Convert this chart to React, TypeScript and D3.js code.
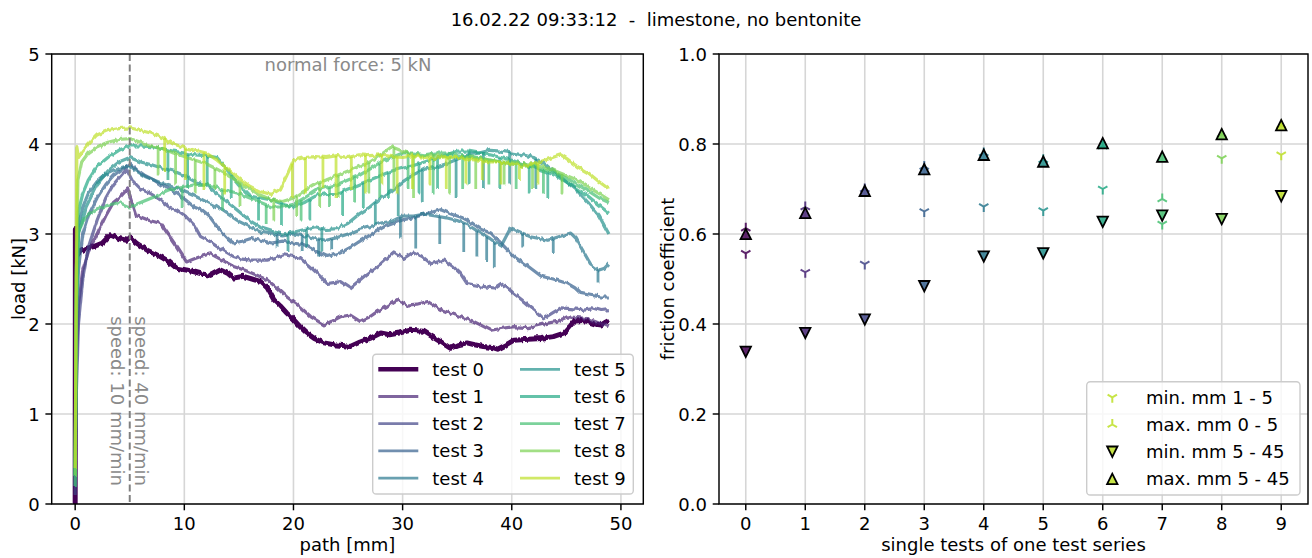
import React from "react";
import * as d3 from "d3";

type P = [number, number];

// ---------- left panel: load vs path, one series per test ----------
const test0: P[] = [[0,0],[0.02,3.05],[0.1,2.75],[0.4,2.8],[1,2.84],[1.7,2.86],[2.5,2.9],[3.2,2.99],[4,2.95],[4.7,2.93],[5,2.97],[5.6,2.9],[6.6,2.82],[7.8,2.75],[8.5,2.7],[9.3,2.62],[10.2,2.6],[10.9,2.58],[11.5,2.56],[12.4,2.54],[13.3,2.6],[14,2.56],[14.5,2.51],[15.4,2.53],[16.2,2.5],[17,2.47],[17.6,2.4],[18.2,2.27],[18.8,2.2],[19.4,2.12],[20,2.05],[20.6,1.97],[21.2,1.9],[21.9,1.84],[22.8,1.79],[23.7,1.77],[24.5,1.76],[25.2,1.75],[26.1,1.8],[27,1.84],[28,1.9],[28.8,1.88],[29.7,1.9],[30.7,1.93],[31.9,1.92],[32.7,1.86],[33.5,1.8],[34.4,1.73],[35.1,1.77],[35.9,1.79],[36.6,1.77],[37.4,1.75],[38.2,1.74],[38.7,1.72],[39.5,1.77],[40.2,1.82],[41.5,1.83],[42.7,1.84],[43.8,1.86],[44.8,1.9],[45.3,1.97],[45.7,2.03],[46.3,2.04],[46.9,2.03],[47.6,2.0],[48.2,1.99],[48.6,2.02],[48.9,2.04]];
const test1: P[] = [[0,0.2],[0.1,1.5],[0.3,2.2],[0.7,2.6],[1.2,2.8],[2,3.0],[2.8,3.2],[3.5,3.35],[4.2,3.42],[4.8,3.5],[5.2,3.35],[5.6,3.2],[6,3.19],[6.8,3.15],[7.8,3.12],[8.5,3.0],[9.3,2.86],[10.2,2.69],[10.8,2.72],[11.5,2.75],[12.4,2.78],[13.3,2.72],[14.5,2.64],[15.5,2.6],[16.5,2.55],[17.6,2.49],[18.5,2.4],[19.4,2.3],[20.5,2.2],[21.6,2.08],[22.8,1.99],[23.5,2.03],[24.3,2.08],[25.2,2.1],[26.1,2.03],[27,2.08],[27.7,2.14],[28.6,2.2],[29.5,2.27],[30.4,2.21],[31.3,2.22],[32.3,2.25],[33.5,2.16],[34.4,2.12],[35.3,2.08],[36.5,2.03],[37.3,1.98],[38.1,1.93],[39,1.95],[40.2,1.97],[41.5,1.96],[43.3,2.01],[44.2,2.03],[45.1,2.08],[46,2.07],[46.9,2.06],[47.8,2.02],[48.5,1.99],[48.9,1.97]];
const test2: P[] = [[0,0.1],[0.1,1.2],[0.3,2.0],[0.7,2.5],[1.2,2.85],[2,3.15],[2.8,3.4],[3.5,3.55],[4.2,3.65],[4.7,3.72],[5.2,3.6],[6,3.5],[6.9,3.45],[7.8,3.38],[8.6,3.3],[9.3,3.27],[10.1,3.2],[10.9,3.1],[11.5,2.97],[12.3,2.92],[13,2.86],[14.5,2.75],[15.3,2.72],[16.1,2.71],[17.6,2.71],[18.4,2.74],[19.1,2.77],[20,2.75],[20.6,2.73],[21.4,2.65],[22.2,2.56],[23.1,2.45],[24.3,2.47],[25.2,2.4],[26,2.48],[26.8,2.56],[28,2.67],[29.2,2.8],[30.1,2.73],[31,2.8],[31.8,2.75],[32.6,2.67],[33.8,2.71],[34.6,2.64],[35.3,2.56],[35.9,2.45],[36.8,2.43],[37.8,2.41],[38.4,2.4],[39,2.45],[39.6,2.4],[40.2,2.34],[41,2.26],[41.7,2.19],[42.4,2.12],[42.9,2.06],[43.7,2.12],[44.5,2.18],[45.4,2.17],[46.3,2.16],[47.3,2.18],[48.2,2.15],[48.9,2.16]];
const test3: P[] = [[0,0.2],[0.1,1.8],[0.3,2.6],[0.7,3.0],[1.2,3.2],[2,3.4],[2.8,3.55],[3.5,3.65],[4.3,3.72],[5,3.78],[5.6,3.72],[6.4,3.65],[7.2,3.6],[7.8,3.55],[8.6,3.5],[9.3,3.45],[10.1,3.38],[10.9,3.3],[11.5,3.27],[12.4,3.18],[13.2,3.05],[14,2.95],[14.5,2.9],[15.3,2.92],[16.1,2.95],[17,2.93],[18,2.9],[19,2.92],[20,2.9],[21,2.88],[22.2,2.8],[23.1,2.75],[24.3,2.79],[25.2,2.85],[26.2,2.93],[27.2,3.0],[28.3,3.08],[29.2,3.12],[30.1,3.16],[31,3.18],[32,3.22],[33.5,3.27],[34.5,3.22],[35.5,3.18],[36.4,3.12],[37.2,3.05],[38.1,3.01],[39,2.9],[40.2,2.75],[41.4,2.65],[42.7,2.53],[43.8,2.5],[45.1,2.45],[45.8,2.4],[46.3,2.34],[47.2,2.32],[48.2,2.3],[48.9,2.3]];
const test4: P[] = [[0,0.3],[0.1,2.3],[0.3,3.1],[0.7,3.3],[1.2,3.45],[2,3.58],[2.8,3.66],[3.5,3.7],[4.3,3.74],[5,3.76],[5.6,3.7],[6.4,3.64],[7.2,3.6],[8,3.56],[9,3.52],[10,3.47],[11,3.42],[12,3.36],[13,3.3],[14,3.22],[15,3.14],[16,3.08],[17,3.02],[18,3.0],[19,2.98],[20,3.0],[21,2.98],[22,2.95],[23,2.93],[24,2.96],[25,3.0],[26,3.05],[27,3.08],[28,3.12],[29,3.14],[30,3.2],[31,3.2],[32,3.22],[33,3.2],[34,3.18],[35,3.15],[36,3.1],[37,3.02],[38,2.95],[39,2.86],[39.9,3.07],[40.8,3.02],[41.7,2.97],[42.5,2.95],[43.3,2.93],[44.3,2.97],[45.4,3.01],[45.9,2.95],[46.3,2.86],[47.2,2.67],[48,2.6],[48.5,2.62],[48.9,2.67]];
const test5: P[] = [[0,0.3],[0.1,2.2],[0.3,3.0],[1,3.3],[2,3.55],[3,3.7],[4,3.8],[5,3.85],[6,3.8],[7,3.77],[8,3.73],[9,3.7],[10,3.65],[11,3.58],[12,3.55],[13,3.45],[14,3.35],[15,3.25],[16,3.15],[17,3.07],[18,3.03],[19,3.0],[20,3.02],[21,3.05],[22,3.08],[23,3.05],[24,3.06],[25,3.12],[26,3.22],[27,3.3],[28,3.4],[29,3.48],[30,3.58],[31,3.66],[32,3.72],[33,3.74],[34,3.78],[35,3.83],[36,3.88],[37,3.9],[38,3.93],[39,3.92],[40,3.9],[41,3.88],[42,3.85],[43,3.78],[44,3.68],[45,3.58],[46,3.48],[47,3.35],[48,3.2],[48.9,3.0]];
const test6: P[] = [[0,0.3],[0.1,2.6],[0.3,3.25],[0.7,3.45],[1.2,3.6],[2,3.75],[3,3.85],[4,3.93],[5,3.98],[6,3.98],[7,3.97],[8,3.95],[9,3.92],[10,3.9],[11,3.88],[12,3.87],[13,3.85],[14,3.7],[15,3.55],[16,3.42],[17,3.4],[18,3.38],[19,3.33],[20,3.3],[21,3.35],[22,3.42],[23,3.45],[24,3.45],[25,3.5],[26,3.55],[27,3.6],[28,3.65],[29,3.7],[30,3.73],[31,3.76],[32,3.8],[33,3.84],[34,3.88],[35,3.92],[36,3.92],[37,3.9],[38,3.88],[39,3.85],[40,3.82],[41,3.78],[42,3.74],[43,3.7],[44,3.65],[45,3.58],[46,3.5],[47,3.42],[48,3.32],[48.9,3.23]];
const test7: P[] = [[0,0.2],[0.1,2.0],[0.3,3.0],[0.7,3.15],[1.2,3.22],[2,3.28],[3,3.32],[4,3.35],[5,3.3],[6,3.35],[7,3.4],[8,3.45],[9,3.5],[10,3.52],[11,3.55],[12,3.55],[13,3.52],[14,3.48],[15,3.45],[16,3.4],[17,3.35],[18,3.3],[19,3.3],[20,3.33],[21,3.4],[22,3.48],[23,3.52],[24,3.55],[25,3.6],[26,3.65],[27,3.72],[28,3.8],[29,3.85],[30,3.9],[31,3.9],[32,3.88],[33,3.9],[34,3.9],[35,3.88],[36,3.86],[37,3.85],[38,3.82],[39,3.8],[40,3.78],[41,3.76],[42,3.75],[43,3.72],[44,3.68],[45,3.62],[46,3.55],[47,3.48],[48,3.4],[48.9,3.35]];
const test8: P[] = [[0,0.3],[0.1,2.5],[0.25,3.6],[0.6,3.8],[1.2,3.9],[2,3.97],[3,4.02],[4,4.05],[5,4.06],[6,4.02],[7,3.98],[8,3.95],[9,3.9],[10,3.86],[11,3.82],[12,3.78],[13,3.72],[14,3.65],[15,3.58],[16,3.5],[17,3.43],[18,3.38],[19,3.36],[20,3.4],[21,3.48],[22,3.55],[23,3.6],[24,3.65],[25,3.7],[26,3.75],[27,3.8],[28,3.88],[29,3.97],[30,3.92],[31,3.88],[32,3.87],[33,3.88],[34,3.86],[35,3.85],[36,3.85],[37,3.84],[38,3.82],[39,3.8],[40,3.8],[41,3.78],[42,3.78],[43,3.75],[44,3.7],[45,3.65],[46,3.6],[47,3.52],[48,3.45],[48.9,3.38]];
const test9: P[] = [[0,0.4],[0.1,2.4],[0.15,3.97],[0.3,3.85],[0.7,3.92],[1.2,4.0],[2,4.1],[3,4.15],[4,4.17],[5,4.18],[6,4.15],[7,4.12],[8,4.07],[9,4.0],[10,3.96],[11,3.93],[12,3.9],[13,3.82],[14,3.72],[15,3.62],[16,3.53],[17,3.47],[18,3.44],[18.8,3.5],[19.5,3.68],[20,3.82],[21,3.85],[22,3.86],[23,3.85],[24,3.87],[25,3.85],[26,3.88],[27,3.87],[28,3.88],[29,3.86],[30,3.85],[31,3.87],[32,3.85],[33,3.84],[34,3.86],[35,3.85],[36,3.83],[37,3.82],[38,3.8],[39,3.8],[40,3.78],[41,3.75],[42,3.78],[43,3.82],[44,3.86],[44.5,3.88],[45,3.84],[46,3.75],[47,3.68],[48,3.58],[48.9,3.5]];

// downward spikes: [path, lowest load]
const dips4: P[] = [[18.5,2.85],[20.8,2.8],[22.3,2.75],[23.5,2.82],[29.8,2.95],[31.2,2.85],[33.4,2.9],[35.6,2.8],[36.8,2.75],[37.7,2.7],[38.4,2.62],[41.0,2.85],[43.8,2.8],[47.9,2.45]];
const dips5: P[] = [[19.5,2.8],[21.2,2.85],[22.6,2.8],[27.5,3.1],[29.6,3.2],[31.8,3.35],[34.9,3.4],[37.4,3.5],[39.8,3.55],[42.2,3.5]];
const dips6: P[] = [[8.5,3.6],[10.3,3.5],[12.1,3.55],[14.3,3.4],[16.8,3.15],[18.9,3.1],[21.5,3.15],[24.5,3.2],[26.4,3.3],[28.7,3.4],[31.5,3.45],[33.2,3.5],[36.1,3.55],[38.9,3.5],[41.6,3.45],[43.3,3.4]];
const dips7: P[] = [[9.8,3.3],[13.5,3.25],[17.5,3.1],[20.7,3.15],[23.3,3.3],[25.6,3.35],[27.9,3.4],[30.5,3.5],[32.8,3.45],[35.5,3.5],[37.9,3.55],[40.4,3.5],[42.9,3.45]];
const dips8: P[] = [[7.6,3.65],[9.2,3.55],[11.0,3.45],[12.8,3.5],[15.1,3.3],[18.2,3.15],[20.3,3.2],[22.4,3.3],[24.1,3.4],[26.9,3.45],[29.2,3.5],[31.0,3.4],[34.3,3.45],[36.7,3.5],[39.3,3.55],[41.9,3.5],[44.6,3.45]];
const dips9: P[] = [[8.2,3.7],[10.1,3.6],[11.8,3.5],[13.7,3.45],[19.9,3.4],[21.1,3.45],[22.7,3.5],[23.9,3.4],[25.3,3.5],[26.6,3.45],[28.1,3.55],[29.5,3.45],[30.9,3.5],[32.5,3.55],[34.0,3.5],[35.8,3.55],[37.3,3.6],[39.0,3.55],[40.7,3.6],[42.4,3.55]];

const testLabels = ["test 0","test 1","test 2","test 3","test 4","test 5","test 6","test 7","test 8","test 9"];
const pathTicks = [0, 10, 20, 30, 40, 50];
const loadTicks = [0, 1, 2, 3, 4, 5];

// ---------- right panel: friction coefficients ----------
const testIdx = [0, 1, 2, 3, 4, 5, 6, 7, 8, 9];
const minMm1to5 = [0.557, 0.515, 0.533, 0.65, 0.661, 0.652, 0.70, 0.622, 0.768, 0.776];
const maxMm0to5 = [0.613, 0.66, 0.70, 0.75, 0.78, 0.765, 0.795, 0.678, 0.822, 0.842];
const minMm5to45 = [0.338, 0.38, 0.41, 0.484, 0.55, 0.557, 0.627, 0.641, 0.633, 0.684];
const maxMm5to45 = [0.60, 0.647, 0.696, 0.744, 0.776, 0.761, 0.802, 0.772, 0.822, 0.842];
const frictionTicks = [0, 0.2, 0.4, 0.6, 0.8, 1.0];
const frictionLegend = ["min. mm 1 - 5", "max. mm 0 - 5", "min. mm 5 - 45", "max. mm 5 - 45"];

const FONT = "DejaVu Sans, Verdana, sans-serif";
const FS = 18;

const L = { left: 51.7, right: 643.3, top: 54, bottom: 504 };
const R = { left: 719, right: 1308, top: 54, bottom: 504 };

function triDown(cx: number, cy: number, r: number) {
  const s = r * 0.866, c = r * 0.5;
  return `M${cx},${cy}L${cx},${cy + r}M${cx},${cy}L${cx - s},${cy - c}M${cx},${cy}L${cx + s},${cy - c}`;
}
function triUp(cx: number, cy: number, r: number) {
  const s = r * 0.866, c = r * 0.5;
  return `M${cx},${cy}L${cx},${cy - r}M${cx},${cy}L${cx - s},${cy + c}M${cx},${cy}L${cx + s},${cy + c}`;
}
function tri(cx: number, cy: number, h: number, up: boolean) {
  return up
    ? `M${cx},${cy - h}L${cx - h},${cy + h}L${cx + h},${cy + h}Z`
    : `M${cx},${cy + h}L${cx - h},${cy - h}L${cx + h},${cy - h}Z`;
}

export default function App() {
  const tests = [test0, test1, test2, test3, test4, test5, test6, test7, test8, test9];
  const dips: (P[] | null)[] = [null, null, null, null, dips4, dips5, dips6, dips7, dips8, dips9];
  const color = (i: number) => d3.interpolateViridis(i / 10);

  const xL = d3.scaleLinear().domain([-2.15, 52.05]).range([L.left, L.right]);
  const yL = d3.scaleLinear().domain([0, 5]).range([L.bottom, L.top]);
  const xR = d3.scaleLinear().domain([-0.45, 9.45]).range([R.left, R.right]);
  const yR = d3.scaleLinear().domain([0, 1]).range([R.bottom, R.top]);

  const line = d3.line<P>().x(d => xL(d[0])).y(d => yL(d[1]));
  const bis = d3.bisector((d: P) => d[0]).left;
  const valueAt = (s: P[], x: number) => {
    const i = Math.max(1, Math.min(s.length - 1, bis(s, x)));
    const a = s[i - 1], b = s[i];
    const t = (x - a[0]) / (b[0] - a[0]);
    return a[1] + t * (b[1] - a[1]);
  };

  const grid = "#d6d6d6";
  const lw = (i: number) => (i === 0 ? 5 : 3.2);
  const op = (i: number) => (i === 0 ? 1 : 0.7);

  const legRowsL = [369.3, 396.5, 423.7, 450.9, 478.1];
  const legRowsR = [397.3, 424.5, 451.7, 478.9];

  return (
    <svg width={1312} height={558} style={{ position: "fixed", left: 0, top: 0, background: "#fff" }}
      fontFamily={FONT} fontSize={FS}>
      <defs>
        <clipPath id="clipL"><rect x={L.left} y={L.top} width={L.right - L.left} height={L.bottom - L.top} /></clipPath>
        <filter id="rough" filterUnits="userSpaceOnUse" x={L.left - 10} y={L.top - 10} width={L.right - L.left + 20} height={L.bottom - L.top + 20}>
          <feTurbulence type="fractalNoise" baseFrequency="0.3 0.05" numOctaves={2} seed={4} result="n" />
          <feColorMatrix in="n" type="matrix" values="0 0 0 0 0.5  0 1.6 0 0 -0.3  0 0 1 0 0  0 0 0 0 1" result="m" />
          <feDisplacementMap in="SourceGraphic" in2="m" scale={3.2} xChannelSelector="R" yChannelSelector="G" />
        </filter>
      </defs>
      <rect x={0} y={0} width={1312} height={558} fill="#fff" />

      <text x={656} y={25.5} textAnchor="middle" style={{ whiteSpace: "pre" }}>{"16.02.22 09:33:12  -  limestone, no bentonite"}</text>

      {/* ---------------- Left axes ---------------- */}
      <g>
        {pathTicks.map(t => (
          <line key={"gx" + t} x1={xL(t)} x2={xL(t)} y1={L.top} y2={L.bottom} stroke={grid} strokeWidth={1.6} />
        ))}
        {loadTicks.map(t => (
          <line key={"gy" + t} x1={L.left} x2={L.right} y1={yL(t)} y2={yL(t)} stroke={grid} strokeWidth={1.6} />
        ))}
        <g clipPath="url(#clipL)">
          <g filter="url(#rough)">
            {tests.map((s, i) => (
              <g key={"s" + i} stroke={color(i)} strokeOpacity={op(i)} fill="none">
                <path d={line(s) || ""} strokeWidth={lw(i)} strokeLinejoin="round" />
                {dips[i] && dips[i]!.map((d, k) => (
                  <line key={k} x1={xL(d[0])} x2={xL(d[0])} y1={yL(valueAt(s, d[0]))} y2={yL(d[1])} strokeWidth={2.8} />
                ))}
              </g>
            ))}
          </g>
          <line x1={xL(5)} x2={xL(5)} y1={L.top} y2={L.bottom} stroke="#808080" strokeWidth={2} strokeDasharray="7,3.5" />
        </g>
        <text x={xL(25)} y={71} textAnchor="middle" fill="#8a8a8a">normal force: 5 kN</text>
        <text transform={`translate(${xL(5) + 5},${yL(0.2)}) rotate(90)`} textAnchor="end" fill="#8a8a8a">speed: 40 mm/min</text>
        <text transform={`translate(${xL(5) - 18.5},${yL(0.2)}) rotate(90)`} textAnchor="end" fill="#8a8a8a">speed: 10 mm/min</text>

        {/* legend */}
        <rect x={372.7} y={354.3} width={260.6} height={139.7} rx={3.6} fill="#fff" fillOpacity={0.8} stroke="#cccccc" strokeWidth={1.4} />
        {testLabels.map((lab, i) => {
          const col = i < 5 ? 0 : 1;
          const y = legRowsL[i % 5];
          const hx = col ? 520 : 378.3;
          const tx = col ? 574 : 432.3;
          return (
            <g key={"lg" + i}>
              <line x1={hx} x2={hx + 40} y1={y} y2={y} stroke={color(i)} strokeOpacity={op(i)} strokeWidth={i === 0 ? 4.6 : 2.8} />
              <text x={tx} y={y + 6.5}>{lab}</text>
            </g>
          );
        })}

        <rect x={L.left} y={L.top} width={L.right - L.left} height={L.bottom - L.top} fill="none" stroke="#000" strokeWidth={1.45} />
        {pathTicks.map(t => (
          <g key={"tx" + t}>
            <line x1={xL(t)} x2={xL(t)} y1={L.bottom} y2={L.bottom + 6.3} stroke="#000" strokeWidth={1.45} />
            <text x={xL(t)} y={530} textAnchor="middle">{t}</text>
          </g>
        ))}
        {loadTicks.map(t => (
          <g key={"ty" + t}>
            <line x1={L.left - 6.3} x2={L.left} y1={yL(t)} y2={yL(t)} stroke="#000" strokeWidth={1.45} />
            <text x={L.left - 12} y={yL(t) + 6.5} textAnchor="end">{t}</text>
          </g>
        ))}
        <text x={(L.left + L.right) / 2} y={551} textAnchor="middle">path [mm]</text>
        <text transform={`translate(25,${(L.top + L.bottom) / 2}) rotate(-90)`} textAnchor="middle">load [kN]</text>
      </g>

      {/* ---------------- Right axes ---------------- */}
      <g>
        {testIdx.map(t => (
          <line key={"rgx" + t} x1={xR(t)} x2={xR(t)} y1={R.top} y2={R.bottom} stroke={grid} strokeWidth={1.6} />
        ))}
        {frictionTicks.map(t => (
          <line key={"rgy" + t} x1={R.left} x2={R.right} y1={yR(t)} y2={yR(t)} stroke={grid} strokeWidth={1.6} />
        ))}
        {testIdx.map(i => (
          <path key={"m1" + i} d={triDown(xR(i), yR(minMm1to5[i]), 5.4)} stroke={color(i)} strokeOpacity={0.85} strokeWidth={2} fill="none" />
        ))}
        {testIdx.map(i => (
          <path key={"m2" + i} d={triUp(xR(i), yR(maxMm0to5[i]), 5.4)} stroke={color(i)} strokeOpacity={0.85} strokeWidth={2} fill="none" />
        ))}
        {testIdx.map(i => (
          <path key={"m3" + i} d={tri(xR(i), yR(minMm5to45[i]), 5.2, false)} fill={color(i)} fillOpacity={0.85} stroke="#000" strokeWidth={1.8} strokeLinejoin="miter" />
        ))}
        {testIdx.map(i => (
          <path key={"m4" + i} d={tri(xR(i), yR(maxMm5to45[i]), 5.2, true)} fill={color(i)} fillOpacity={0.85} stroke="#000" strokeWidth={1.8} strokeLinejoin="miter" />
        ))}

        {/* legend */}
        <rect x={1086.7} y={381.7} width={213.3} height={113.3} rx={3.6} fill="#fff" fillOpacity={0.8} stroke="#cccccc" strokeWidth={1.4} />
        {frictionLegend.map((lab, k) => {
          const y = legRowsR[k];
          const mx = 1112.3;
          const c = color(9);
          let mark;
          if (k === 0) mark = <path d={triDown(mx, y, 5.4)} stroke={c} strokeOpacity={0.85} strokeWidth={2} fill="none" />;
          else if (k === 1) mark = <path d={triUp(mx, y, 5.4)} stroke={c} strokeOpacity={0.85} strokeWidth={2} fill="none" />;
          else mark = <path d={tri(mx, y, 5.2, k === 3)} fill={c} fillOpacity={0.85} stroke="#000" strokeWidth={1.8} />;
          return (
            <g key={"rl" + k}>
              {mark}
              <text x={1146} y={y + 6.5}>{lab}</text>
            </g>
          );
        })}

        <rect x={R.left} y={R.top} width={R.right - R.left} height={R.bottom - R.top} fill="none" stroke="#000" strokeWidth={1.45} />
        {testIdx.map(t => (
          <g key={"rtx" + t}>
            <line x1={xR(t)} x2={xR(t)} y1={R.bottom} y2={R.bottom + 6.3} stroke="#000" strokeWidth={1.45} />
            <text x={xR(t)} y={530} textAnchor="middle">{t}</text>
          </g>
        ))}
        {frictionTicks.map(t => (
          <g key={"rty" + t}>
            <line x1={R.left - 6.3} x2={R.left} y1={yR(t)} y2={yR(t)} stroke="#000" strokeWidth={1.45} />
            <text x={R.left - 12} y={yR(t) + 6.5} textAnchor="end">{d3.format(".1f")(t)}</text>
          </g>
        ))}
        <text x={(R.left + R.right) / 2} y={551} textAnchor="middle">single tests of one test series</text>
        <text transform={`translate(674,${(R.top + R.bottom) / 2}) rotate(-90)`} textAnchor="middle">friction coefficient</text>
      </g>
    </svg>
  );
}
